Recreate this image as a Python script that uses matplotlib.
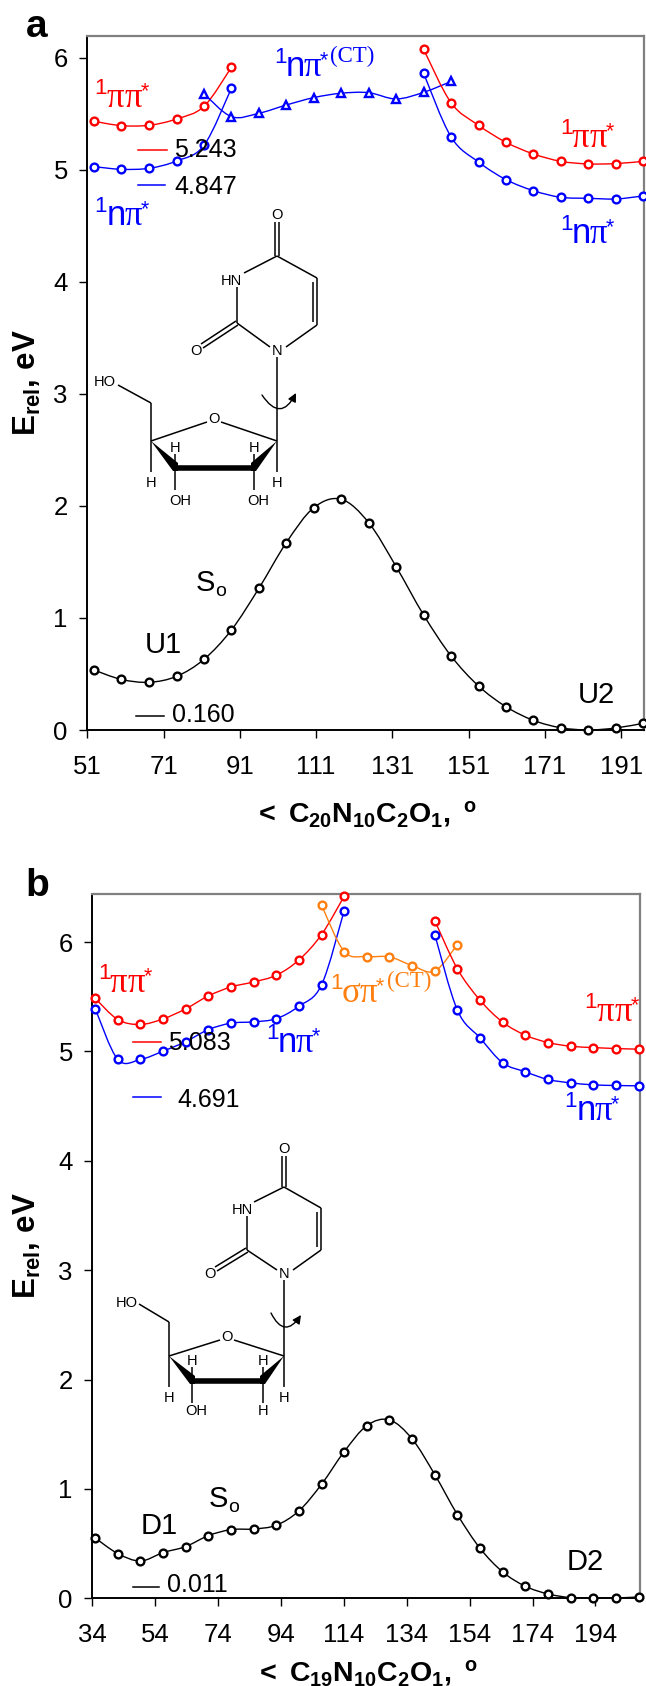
import matplotlib
matplotlib.use('Agg')
import matplotlib.pyplot as plt
from matplotlib.path import Path
from matplotlib.patches import PathPatch, Polygon, FancyArrowPatch

plt.rcParams['font.family'] = ['Liberation Sans', 'DejaVu Sans']
plt.rcParams['mathtext.fontset'] = 'custom'
plt.rcParams['mathtext.rm'] = 'Liberation Sans'
plt.rcParams['mathtext.bf'] = 'Liberation Sans:bold'
plt.rcParams['mathtext.it'] = 'Liberation Sans:italic'

RED = '#ff0000'
BLUE = '#0000ff'
ORANGE = '#ff7f10'
W, H = 646, 1686

# panel a data
a_ticks = [51, 71, 91, 111, 131, 151, 171, 191]
a_x = [52.7, 59.9, 67.2, 74.4, 81.6, 88.8, 96.0, 103.2, 110.4, 117.6, 124.8,
       132.0, 139.2, 146.4, 153.6, 160.8, 168.0, 175.2, 182.4, 189.6, 196.8]
a_s0 = [0.536, 0.452, 0.426, 0.479, 0.631, 0.893, 1.265, 1.673, 1.985, 2.06, 1.851,
        1.458, 1.027, 0.661, 0.393, 0.208, 0.086, 0.02, 0.0, 0.018, 0.06]
a_pp_left = [5.435, 5.396, 5.399, 5.455, 5.568, 5.917]
a_np_left = [5.03, 5.006, 5.015, 5.08, 5.22, 5.73]
a_ct = [5.68, 5.476, 5.506, 5.58, 5.646, 5.685, 5.69, 5.634, 5.693, 5.79]
a_pp_right = [6.077, 5.60, 5.399, 5.247, 5.143, 5.077, 5.054, 5.057, 5.077]
a_np_right = [5.863, 5.295, 5.071, 4.914, 4.815, 4.756, 4.747, 4.741, 4.768]

# panel b data
b_ticks = [34, 54, 74, 94, 114, 134, 154, 174, 194]
b_x = [34.9, 42.1, 49.3, 56.5, 63.7, 70.9, 78.1, 85.3, 92.5, 99.7, 106.9, 114.1, 121.3,
       128.5, 135.7, 142.9, 150.1, 157.3, 164.5, 171.7, 178.9, 186.1, 193.3, 200.5, 207.7]
b_s0 = [0.552, 0.409, 0.341, 0.418, 0.473, 0.573, 0.628, 0.634, 0.668, 0.799, 1.043, 1.341, 1.579,
        1.631, 1.457, 1.131, 0.765, 0.457, 0.241, 0.11, 0.04, 0.006, 0.0, 0.003, 0.012]
b_pp_left = [5.487, 5.292, 5.247, 5.298, 5.39, 5.508, 5.59, 5.636, 5.697, 5.837, 6.069, 6.42]
b_np_left = [5.393, 4.927, 4.927, 5.003, 5.09, 5.2, 5.259, 5.271, 5.30, 5.414, 5.609, 6.289]
b_sp = [6.337, 5.914, 5.868, 5.865, 5.786, 5.735, 5.978]
b_pp_right = [6.197, 5.755, 5.469, 5.268, 5.149, 5.082, 5.048, 5.036, 5.027, 5.021]
b_np_right = [6.069, 5.377, 5.124, 4.896, 4.814, 4.744, 4.713, 4.695, 4.689, 4.686]


def smooth_path(x, y):
    # Catmull-Rom curve through the points, as bezier segments
    verts = [(x[0], y[0])]
    codes = [Path.MOVETO]
    n = len(x)
    for i in range(n - 1):
        i0 = max(i - 1, 0)
        i3 = min(i + 2, n - 1)
        verts.append((x[i] + (x[i + 1] - x[i0]) / 6, y[i] + (y[i + 1] - y[i0]) / 6))
        verts.append((x[i + 1] - (x[i3] - x[i]) / 6, y[i + 1] - (y[i3] - y[i]) / 6))
        verts.append((x[i + 1], y[i + 1]))
        codes += [Path.CURVE4, Path.CURVE4, Path.CURVE4]
    return Path(verts, codes)


def curve(ax, x, y, color, marker='o', ms=5.6):
    ax.add_patch(PathPatch(smooth_path(x, y), fill=False, ec=color, lw=1.0, zorder=3))
    ax.plot(x, y, ls='none', marker=marker, ms=ms, mfc='white', mec=color, mew=1.7,
            clip_on=False, zorder=4)


def make_axes(left, right, top, bottom, xlim, ylim, ticks):
    ax = fig.add_axes([left / W, 1 - bottom / H, (right - left) / W, (bottom - top) / H])
    ax.set_xlim(*xlim)
    ax.set_ylim(0, ylim)
    ax.set_xticks(ticks)
    ax.set_yticks(range(0, 7))
    ax.tick_params(axis='both', direction='out', length=6, width=1.0, labelsize=18.5)
    ax.tick_params(axis='x', pad=12)
    ax.tick_params(axis='y', pad=8)
    ax.spines['top'].set_color('#808080')
    ax.spines['right'].set_color('#808080')
    for s in ['top', 'right']:
        ax.spines[s].set_linewidth(1.6)
    for s in ['left', 'bottom']:
        ax.spines[s].set_linewidth(1.4)
    return ax


def state(x, base, color, body, ct=None, ct_x=None, ct_base=None):
    # x is the left of the big letters, base their baseline, both in pixels
    ov.text(x - 6, base - 13, '1', color=color, fontsize=16, ha='center', va='baseline')
    first, second = body
    ov.text(x, base, first, color=color, fontsize=25, ha='left', va='baseline',
            family='Liberation Sans' if first == 'n' else 'Liberation Serif')
    ov.text(x + 17.5, base, second, color=color, fontsize=25, ha='left', va='baseline',
            family='Liberation Serif')
    ov.text(x + 38, base - 10, '*', color=color, fontsize=15.5, ha='center', va='baseline')
    if ct:
        ov.text(ct_x, ct_base, ct, color=color, fontsize=16.5, ha='left', va='baseline',
                family='Liberation Serif')


def level(x0, x1, y, color, label, tx, ty):
    ov.plot([x0, x1], [y, y], color=color, lw=1.1)
    ov.text(tx, ty, label, color='black', fontsize=18, ha='left', va='baseline')


def bond(p, q, lw=1.1):
    ov.plot([p[0], q[0]], [p[1], q[1]], color='black', lw=lw, solid_capstyle='butt')


def atom(p, s):
    ov.text(p[0], p[1], s, fontsize=10.5, ha='center', va='center', color='black')


def structure(p):
    # pyrimidine ring
    bond(p['C4'], p['C5'])
    bond(p['C5'], p['C6'])
    bond((p['C5'][0] - 4, p['C5'][1] + 4), (p['C6'][0] - 4, p['C6'][1] - 3))
    bond(p['C6'], (p['N1'][0] + 9, p['N1'][1] - 3))
    bond((p['N1'][0] - 7, p['N1'][1] - 3), p['C2'])
    bond(p['C2'], (p['C2'][0], p['N3'][1] + 6))
    bond((p['N3'][0] + 7, p['N3'][1] - 8), p['C4'])
    bond((p['C4'][0] - 2, p['C4'][1]), (p['C4'][0] - 2, p['O4'][1] + 7))
    bond((p['C4'][0] + 2, p['C4'][1]), (p['C4'][0] + 2, p['O4'][1] + 7))
    bond((p['C2'][0] + 1, p['C2'][1] + 2), (p['O2'][0] + 7, p['O2'][1] - 3))
    bond((p['C2'][0] - 1, p['C2'][1] - 2), (p['O2'][0] + 5, p['O2'][1] - 7))
    atom(p['O4'], 'O')
    atom(p['O2'], 'O')
    atom(p['HN'], 'HN')
    atom(p['N1lab'], 'N')
    # sugar ring
    bond((p['N1'][0], p['N1'][1] + 7), p['C1'])
    bond(p['C1'], (p['C1'][0], p['C1'][1] + 31))
    atom((p['C1'][0], p['C1'][1] + 42), 'H')
    bond(p['C4p'], (p['C4p'][0], p['C4p'][1] + 31))
    atom((p['C4p'][0], p['C4p'][1] + 42), 'H')
    bond(p['C4p'], (p['Or'][0] - 7, p['Or'][1] + 3))
    bond(p['C1'], (p['Or'][0] + 7, p['Or'][1] + 3))
    atom(p['Or'], 'O')
    bond(p['C4p'], p['CH2'])
    bond(p['CH2'], p['HObond'])
    atom(p['HO'], 'HO')
    ov.add_patch(Polygon([p['C4p'], (p['C3'][0] + 3, p['C3'][1] - 5), (p['C3'][0] + 3, p['C3'][1] + 3),
                          (p['C3'][0] - 2, p['C3'][1] + 3)], color='black', lw=0))
    ov.add_patch(Polygon([p['C1'], (p['C2p'][0] - 3, p['C2p'][1] - 5), (p['C2p'][0] - 3, p['C2p'][1] + 3),
                          (p['C2p'][0] + 2, p['C2p'][1] + 3)], color='black', lw=0))
    bond(p['C3'], p['C2p'], lw=4.0)
    bond(p['C3'], (p['C3'][0], p['C3'][1] - 14))
    bond(p['C2p'], (p['C2p'][0], p['C2p'][1] - 14))
    atom((p['C3'][0], p['C3'][1] - 20), 'H')
    atom((p['C2p'][0], p['C2p'][1] - 20), 'H')
    bond(p['C3'], (p['C3'][0], p['C3'][1] + 22))
    bond(p['C2p'], (p['C2p'][0], p['C2p'][1] + 22))
    atom(p['lab3'], 'OH')
    atom(p['lab2'], p['lab2s'])
    # rotation arrow
    ov.add_patch(FancyArrowPatch(p['arc0'], p['arc1'], connectionstyle='arc3,rad=0.85',
                                 arrowstyle='-|>,head_length=5,head_width=2.5',
                                 color='black', lw=1.0, shrinkA=0, shrinkB=0))


fig = plt.figure(figsize=(W / 100, H / 100), dpi=100)

# panel a
ax1 = make_axes(87.3, 644, 36, 730, (51, 197), 6.196, a_ticks)
curve(ax1, a_x, a_s0, 'black')
curve(ax1, a_x[:6], a_pp_left, RED)
curve(ax1, a_x[:6], a_np_left, BLUE)
curve(ax1, a_x[4:14], a_ct, BLUE, marker='^', ms=5.4)
curve(ax1, a_x[12:], a_pp_right, RED)
curve(ax1, a_x[12:], a_np_right, BLUE)

# panel b
ax2 = make_axes(92.3, 639.5, 894, 1598.3, (34, 208), 6.44, b_ticks)
curve(ax2, b_x, b_s0, 'black')
curve(ax2, b_x[:12], b_pp_left, RED)
curve(ax2, b_x[:12], b_np_left, BLUE)
curve(ax2, b_x[10:17], b_sp, ORANGE)
curve(ax2, b_x[15:], b_pp_right, RED)
curve(ax2, b_x[15:], b_np_right, BLUE)

# overlay in pixel coordinates for labels and the molecules
ov = fig.add_axes([0, 0, 1, 1], zorder=10)
ov.set_xlim(0, W)
ov.set_ylim(H, 0)
ov.axis('off')

ov.text(26, 37, 'a', fontsize=28, fontweight='bold', ha='left', va='baseline')
ov.text(25, 896, 'b', fontsize=28, fontweight='bold', ha='left', va='baseline')

ylab = r'$\mathbf{E_{rel},\,eV}$'
ov.text(27, 383, ylab, fontsize=22.5, rotation=90, ha='center', va='center')
ov.text(27, 1246, ylab, fontsize=22.5, rotation=90, ha='center', va='center')
ov.text(365, 822, r'$\mathbf{<\ C_{20}N_{10}C_{2}O_{1},\ ^{o}}$', fontsize=20.5, ha='center', va='baseline')
ov.text(366, 1681, r'$\mathbf{<\ C_{19}N_{10}C_{2}O_{1},\ ^{o}}$', fontsize=20.5, ha='center', va='baseline')

# state labels panel a
state(107, 107, RED, 'ππ')
state(107, 225, BLUE, 'nπ')
state(286, 76, BLUE, 'nπ', ct='(CT)', ct_x=330, ct_base=62)
state(572, 147, RED, 'ππ')
state(572, 243, BLUE, 'nπ')
level(138, 167, 150, RED, '5.243', 174, 157)
level(138, 165, 185, BLUE, '4.847', 174, 194)
level(136, 164, 716, 'black', '0.160', 172, 722)
ov.text(196, 591, 'S', fontsize=21, ha='left', va='baseline')
ov.text(215, 596, 'o', fontsize=14, ha='left', va='baseline')
ov.text(145, 653, 'U1', fontsize=21, ha='left', va='baseline')
ov.text(578, 703, 'U2', fontsize=21, ha='left', va='baseline')

# state labels panel b
state(110, 992, RED, 'ππ')
state(278, 1052, BLUE, 'nπ')
state(342, 1002, ORANGE, 'σπ', ct='(CT)', ct_x=387, ct_base=987)
state(597, 1021, RED, 'ππ')
state(577, 1120, BLUE, 'nπ')
level(133, 161, 1042, RED, '5.083', 168, 1050)
level(133, 161, 1097, BLUE, '4.691', 177, 1107)
level(133, 159, 1587, 'black', '0.011', 167, 1592)
ov.text(209, 1507, 'S', fontsize=21, ha='left', va='baseline')
ov.text(228, 1512, 'o', fontsize=14, ha='left', va='baseline')
ov.text(141, 1534, 'D1', fontsize=21, ha='left', va='baseline')
ov.text(567, 1570, 'D2', fontsize=21, ha='left', va='baseline')

structure({'O4': (277, 215), 'C4': (277, 256), 'C5': (317, 278), 'C6': (317, 325), 'N1': (277, 350),
           'N1lab': (277, 351), 'C2': (237, 323), 'N3': (237, 281), 'HN': (231, 281), 'O2': (196, 351),
           'C1': (277, 441), 'C4p': (151, 441), 'C3': (175, 468), 'C2p': (254, 468), 'Or': (214, 419),
           'CH2': (151, 403), 'HObond': (118, 385), 'HO': (105, 382), 'lab3': (180, 501), 'lab2': (258, 501),
           'lab2s': 'OH', 'arc0': (262, 395), 'arc1': (296, 393)})
structure({'O4': (284, 1149), 'C4': (284, 1187), 'C5': (321, 1208), 'C6': (321, 1250), 'N1': (284, 1273),
           'N1lab': (284, 1274), 'C2': (247, 1250), 'N3': (247, 1210), 'HN': (242, 1210), 'O2': (210, 1274),
           'C1': (284, 1356), 'C4p': (169, 1356), 'C3': (192, 1381), 'C2p': (263, 1381), 'Or': (227, 1337),
           'CH2': (169, 1322), 'HObond': (139, 1304), 'HO': (127, 1303), 'lab3': (196, 1411), 'lab2': (263, 1411),
           'lab2s': 'H', 'arc0': (271, 1313), 'arc1': (301, 1315)})

fig.savefig('out.png', dpi=100)
